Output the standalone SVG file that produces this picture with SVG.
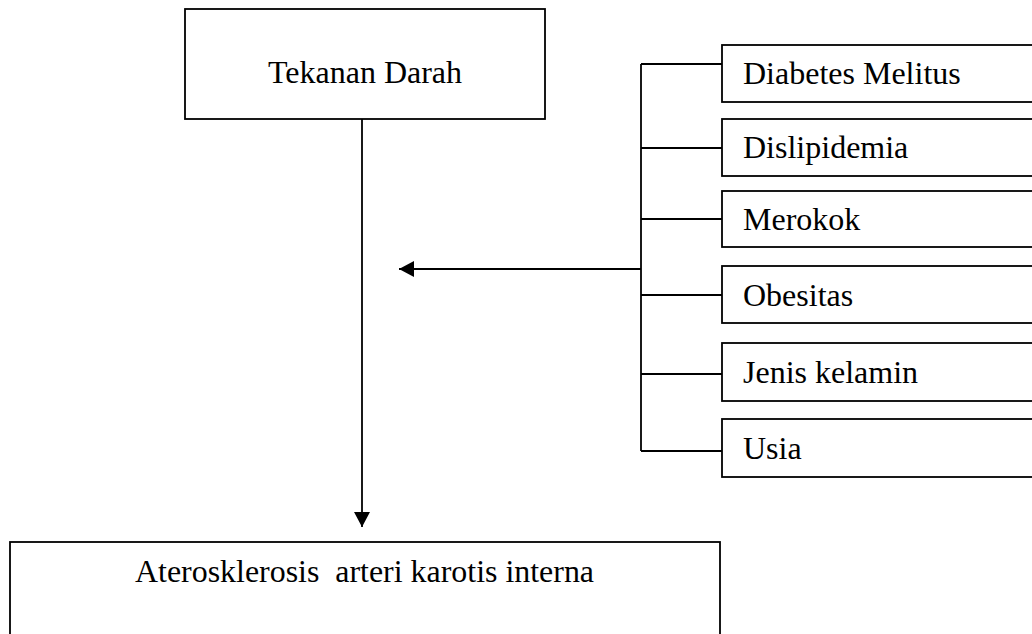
<svg xmlns="http://www.w3.org/2000/svg" width="1032" height="634" viewBox="0 0 1032 634">
<style>
.box{fill:#fff;stroke:#000;stroke-width:1.8}
.t{font-family:"Liberation Serif","Times New Roman",serif;font-size:32px;fill:#000}
.ln{fill:none;stroke:#000;stroke-width:1.8}
</style>
<defs>
<marker id="ah" markerWidth="16" markerHeight="16" viewBox="0 0 16 16" refX="15" refY="8" orient="auto" markerUnits="userSpaceOnUse">
<path d="M0,0 L15,8 L0,16 Z" fill="#000"/>
</marker>
</defs>
<rect width="1032" height="634" fill="#fff"/>
<g id="tekanan-darah">
<rect class="box" x="185" y="9" width="360" height="110"/>
<text class="t" x="365" y="83" text-anchor="middle">Tekanan Darah</text>
</g>
<g id="diabetes">
<rect class="box" x="722" y="45" width="320" height="57"/>
<text class="t" x="743" y="84">Diabetes Melitus</text>
</g>
<g id="dislipidemia">
<rect class="box" x="722" y="119" width="320" height="57"/>
<text class="t" x="743" y="158">Dislipidemia</text>
</g>
<g id="merokok">
<rect class="box" x="722" y="191" width="320" height="56"/>
<text class="t" x="743" y="230">Merokok</text>
</g>
<g id="obesitas">
<rect class="box" x="722" y="266" width="320" height="57"/>
<text class="t" x="743" y="306">Obesitas</text>
</g>
<g id="jenis-kelamin">
<rect class="box" x="722" y="343" width="320" height="58"/>
<text class="t" x="743" y="383">Jenis kelamin</text>
</g>
<g id="usia">
<rect class="box" x="722" y="419" width="320" height="58"/>
<text class="t" x="743" y="459">Usia</text>
</g>
<g id="aterosklerosis">
<rect class="box" x="10" y="542" width="710" height="110"/>
<text class="t" x="135" y="582" textLength="459" lengthAdjust="spacingAndGlyphs" xml:space="preserve">Aterosklerosis  arteri karotis interna</text>
</g>
<g id="connectors">
<line class="ln" x1="362" y1="119" x2="362" y2="527" marker-end="url(#ah)"/>
<line class="ln" x1="641" y1="64" x2="641" y2="451"/>
<line class="ln" x1="641" y1="64" x2="722" y2="64"/>
<line class="ln" x1="641" y1="148" x2="722" y2="148"/>
<line class="ln" x1="641" y1="219" x2="722" y2="219"/>
<line class="ln" x1="641" y1="295" x2="722" y2="295"/>
<line class="ln" x1="641" y1="374" x2="722" y2="374"/>
<line class="ln" x1="641" y1="451" x2="722" y2="451"/>
<line class="ln" x1="641" y1="269" x2="399" y2="269" marker-end="url(#ah)"/>
</g>
</svg>
